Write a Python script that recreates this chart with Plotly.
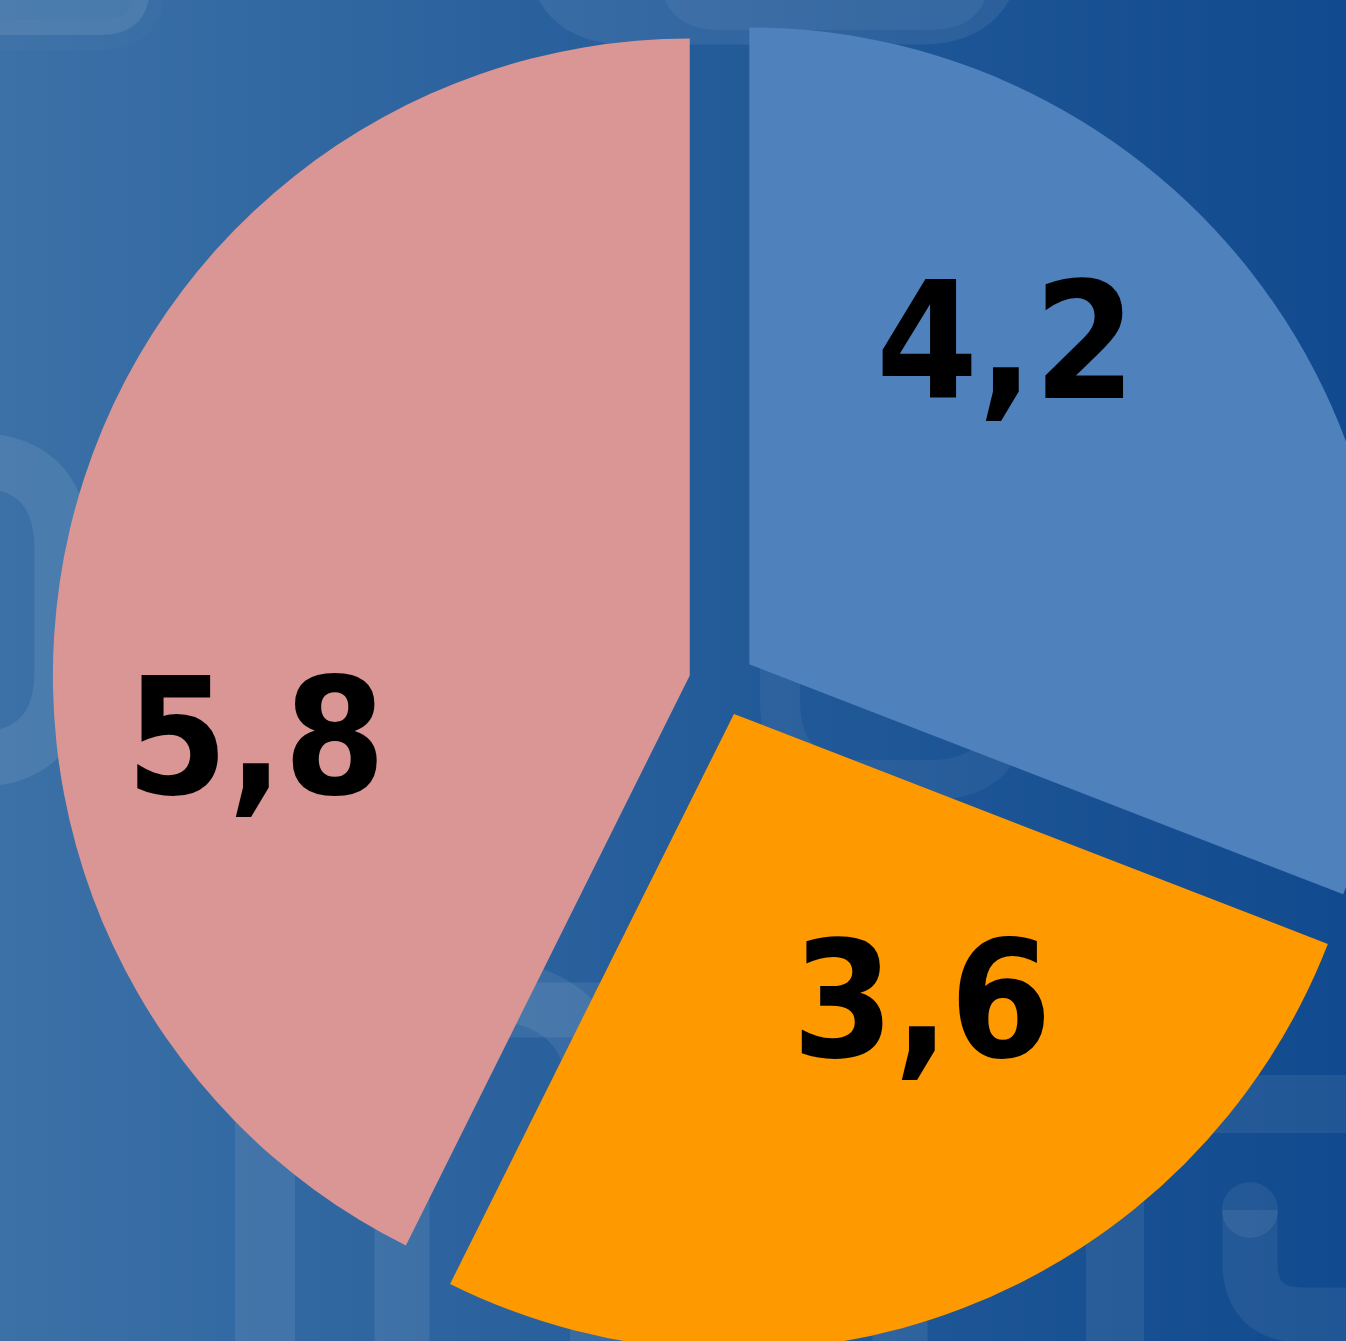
import math
import plotly.graph_objects as go

# ---- data ----
labels = ["A", "B", "C"]
values = [4.2, 3.6, 5.8]
colors = ["#4f81bd", "#ff9900", "#d99694"]
pulls = [0.052, 0.052, 0.052]

# label placement style (fraction of radius, angular shift in degrees)
label_r_frac = [0.653, 0.533, 0.687]
label_angle_shift = [-17.4, -12.5, -20.9]

# ---- figure geometry (page pixels) ----
FIG_W, FIG_H = 1444, 1366
ML, MR, MT, MB = 52, 52, 13, 13
PW, PH = FIG_W - ML - MR, FIG_H - MT - MB


def px(x):
    return (x - ML) / PW


def py(y):
    return 1 - (y - MT) / PH


fig = go.Figure()
fig.add_trace(go.Pie(
    labels=labels,
    values=values,
    marker=dict(colors=colors, line=dict(width=0)),
    pull=pulls,
    sort=False,
    direction="clockwise",
    rotation=0,
    textinfo="none",
    hoverinfo="skip",
    showlegend=False,
))

# value labels placed relative to each slice's (pulled) centre
total = sum(values)
cx, cy = ML + PW / 2, MT + PH / 2
R = min(PW, PH) / 2 / (1 + max(pulls))
annotations = []
cum = 0.0
for v, pl, fr, sh in zip(values, pulls, label_r_frac, label_angle_shift):
    mid = math.radians((cum + v / 2) / total * 360)
    cum += v
    pcx = cx + pl * R * math.sin(mid)
    pcy = cy - pl * R * math.cos(mid)
    a = mid + math.radians(sh)
    lx = pcx + fr * R * math.sin(a)
    ly = pcy - fr * R * math.cos(a)
    annotations.append(dict(
        x=px(lx), y=py(ly), xref="paper", yref="paper",
        xanchor="center", yanchor="middle", showarrow=False, yshift=-4,
        text=f"{v:.1f}".replace(".", ","),
        font=dict(family="DejaVu Sans Condensed, DejaVu Sans", size=163,
                  color="black", weight="bold"),
    ))

shapes = []
# background gradient as vertical strips
stops = [(0, (60, 113, 167)), (700, (36, 92, 154)), (1346, (17, 74, 142))]


def col_at(x):
    for (x0, c0), (x1, c1) in zip(stops[:-1], stops[1:]):
        if x <= x1:
            t = (x - x0) / (x1 - x0)
            return tuple(round(a + (b - a) * t) for a, b in zip(c0, c1))
    return stops[-1][1]


step = 8
for x in range(0, FIG_W, step):
    c = col_at(min(x + step / 2, 1346))
    shapes.append(dict(type="rect", xref="paper", yref="paper",
                       x0=px(x), x1=px(x + step + 1), y0=py(FIG_H + 20), y1=py(-20),
                       fillcolor="rgb(%d,%d,%d)" % c, line=dict(width=0), layer="below"))


def rrect(x0, y0, x1, y1, r, width=30, fill=None, op=0.1):
    p = (f"M {px(x0 + r)},{py(y0)} L {px(x1 - r)},{py(y0)} "
         f"Q {px(x1)},{py(y0)} {px(x1)},{py(y0 + r)} L {px(x1)},{py(y1 - r)} "
         f"Q {px(x1)},{py(y1)} {px(x1 - r)},{py(y1)} L {px(x0 + r)},{py(y1)} "
         f"Q {px(x0)},{py(y1)} {px(x0)},{py(y1 - r)} L {px(x0)},{py(y0 + r)} "
         f"Q {px(x0)},{py(y0)} {px(x0 + r)},{py(y0)} Z")
    shapes.append(dict(type="path", xref="paper", yref="paper", path=p,
                       line=dict(color=f"rgba(255,255,255,{op})", width=width),
                       fillcolor=fill if fill else "rgba(0,0,0,0)", layer="below"))


def opath(pts, width, op):
    p = f"M {px(pts[0][0])},{py(pts[0][1])} "
    i = 1
    while i < len(pts):
        if pts[i] == "Q":
            (qx, qy), (ex, ey) = pts[i + 1], pts[i + 2]
            p += f"Q {px(qx)},{py(qy)} {px(ex)},{py(ey)} "
            i += 3
        else:
            p += f"L {px(pts[i][0])},{py(pts[i][1])} "
            i += 1
    shapes.append(dict(type="path", xref="paper", yref="paper", path=p,
                       line=dict(color=f"rgba(255,255,255,{op})", width=width),
                       layer="below"))


# faint decorative rounded outlines
rrect(-200, -200, 150, 35, 50, width=30, fill="rgba(255,255,255,0.09)", op=0.02)
rrect(548, -200, 1000, 22, 80, width=45, op=0.07)
rrect(660, -200, 990, 30, 60, width=2, fill="rgba(255,255,255,0.05)", op=0.0)
rrect(-200, 460, 62, 760, 90, width=55, op=0.09)
rrect(265, 990, 600, 1500, 120, width=60, op=0.08)
rrect(402, 1010, 900, 1500, 100, width=55, op=0.08)
opath([(1115, 1500), (1115, 1165), "Q", (1115, 1104), (1176, 1104), (1600, 1104)], 58, 0.07)
opath([(1250, 1210), (1250, 1262), "Q", (1250, 1315), (1303, 1315), (1600, 1315)], 55, 0.07)
shapes.append(dict(type="circle", xref="paper", yref="paper",
                   x0=px(1222), x1=px(1278), y0=py(1182), y1=py(1238),
                   fillcolor="rgba(255,255,255,0.07)", line=dict(width=0), layer="below"))
rrect(780, 560, 1010, 780, 80, width=40, op=0.05)

fig.update_layout(
    width=FIG_W, height=FIG_H,
    margin=dict(l=ML, r=MR, t=MT, b=MB),
    paper_bgcolor="#245c9a",
    plot_bgcolor="rgba(0,0,0,0)",
    separators=", ",
    shapes=shapes,
    annotations=annotations,
    showlegend=False,
)

fig.write_html(
    "out.html",
    config={"displayModeBar": False},
    post_script="document.body.style.margin='0';document.body.style.overflow='hidden';document.documentElement.style.overflow='hidden';",
)
